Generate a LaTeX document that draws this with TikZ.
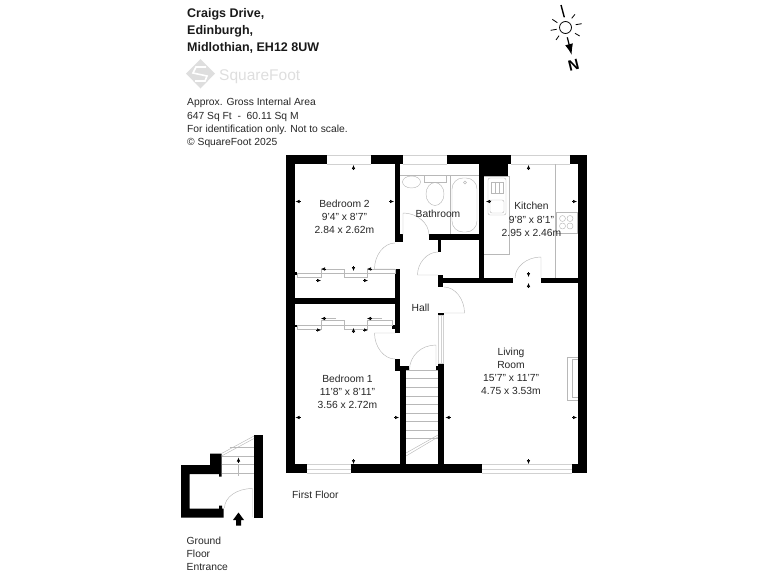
\documentclass[tikz,border=0pt]{standalone}
\usepackage{fontspec}
\setmainfont{Liberation Sans}
\usetikzlibrary{arrows.meta}
\definecolor{fixline}{gray}{0.72}
\definecolor{glazing}{gray}{0.82}
\definecolor{logogrey}{gray}{0.87}

\tikzset{
  wall/.style={fill=black},
  fix/.style={draw=fixline,line width=.45pt},
  pane/.style={draw=glazing,line width=.45pt},
  room/.style={align=center,inner sep=0pt,text=black!85,font=\fontsize{10.3}{13.2}\selectfont},
  note/.style={align=left,anchor=west,inner sep=0pt,text=black!85,font=\fontsize{10.3}{13.3}\selectfont},
  head/.style={anchor=base west,inner sep=0pt,text=black!90,font=\fontsize{12.5}{17}\selectfont\bfseries},
  dimtip/.style={black,line width=.6pt,-{Latex[length=4pt,width=3.6pt]}}
}

\begin{document}
\begin{tikzpicture}[x=1pt,y=-1pt]
  \useasboundingbox (0,0) rectangle (768,576);
  % walls
  \foreach \xa/\ya/\xb/\yb in {286/155/327/164, 371/155/403/164, 447/155/511/164, 570/155/587/164,
      484/164/508/176, 286/155/295/473, 578/155/587/473, 286/464/307/473, 351/464/482/473, 572/464/587/473,
      395/164/400/242, 400/234/403/242, 395/269/400/333, 392/325/395/329, 295/298/395/304,
      429/234/484/240, 438/240/441/252, 479/164/484/283, 438/278/513/283, 438/275/443/287, 541/278/578/283,
      438/313/444/315, 438/363/444/473, 400/366/406/473, 395/359/400/371, 400/366/409/371, 436/366/438/371,
      295/272/297/275, 295/325/297/327}
    \fill[wall] (\xa,\ya) rectangle (\xb,\yb);
  % windows
  \foreach \xa/\xb in {327/371, 403/447, 511/570} {
    \draw[pane] (\xa,155) -- (\xb,155);
    \draw[pane] (\xa,164) -- (\xb,164);
  }
  \foreach \xa/\xb in {307/351, 482/572} {
    \draw[pane] (\xa,464) -- (\xb,464);
    \draw[pane] (\xa,469) -- (\xb,469);
    \draw[pane] (\xa,473) -- (\xb,473);
  }
  \draw[pane] (438.5,315) rectangle (443.5,363);
  \draw[pane] (441,315) -- (441,363);
  % doors
  \draw[fix] (403,235) -- (403,213) .. controls (417,213) and (429,223) .. (429,235);
  \draw[fix] (395,243) .. controls (384,243) and (374.5,255) .. (374.5,269) -- (395,269);
  \draw[fix] (438,252) .. controls (427,252) and (417.5,263) .. (417.5,275) -- (438,275);
  \draw[fix] (515,278) .. controls (515,267) and (526.5,257) .. (541,257) -- (541,278);
  \draw[fix] (444,287) .. controls (455,287) and (464.5,299) .. (464.5,313) -- (444,313);
  \draw[fix] (395,333) -- (374.5,333) .. controls (374.5,347) and (384,359) .. (395,359);
  \draw[fix] (409.5,370) .. controls (409.5,356) and (421,345) .. (436,345) -- (436,366);
  % wardrobes
  \foreach \ya/\yb/\yc/\xe in {269/273.5/277.5/395, 320.5/325/329/392} {
    \draw[fix] (321.5,\ya) rectangle (344,\yb);
    \draw[fix] (367.5,\ya) rectangle (\xe,\yb);
    \draw[fix] (297,\yb) rectangle (321.5,\yc);
    \draw[fix] (344,\yb) rectangle (367.5,\yc);
  }
  \foreach \y in {269,318.5} {
    \draw[fix] (336,\y) -- (324,\y);
    \draw[fix] (382,\y) -- (370,\y);
  }
  % stairs
  \foreach \y in {370,378,387,396,404,413,421,430,438} \draw[fix] (406,\y) -- (438,\y);
  \draw[fix] (406,456) -- (438,437);
  \draw[fix] (406,453) -- (438,435);
  % bathroom
  \draw[fix] (400,175.5) -- (479,175.5);
  \draw[fix] (450,175.5) -- (450,234);
  \draw[fix] (411.5,182) ellipse (9 and 6);
  \draw[fix] (424,175.5) rectangle (446,182);
  \draw[fix] (435,194) ellipse (9 and 11.5);
  \draw[fix,rounded corners=11pt] (452,178) rectangle (477,232);
  \draw[fix] (465,182.5) circle (1.5);
  % kitchen
  \draw[fix] (484,176) -- (509,176) -- (509,254) -- (484,254);
  \draw[fix] (555,164) -- (555,278);
  \draw[fix,rounded corners=2pt] (488,178) rectangle (506,215);
  \draw[fix] (491,182) rectangle (503,193);
  \foreach \x in {495,499} \draw[fix] (\x,182) -- (\x,193);
  \draw[fix,rounded corners=2pt] (490,200) rectangle (504,213);
  \draw[fix] (556,212) rectangle (577,233);
  \foreach \x/\y in {562.5/218.5, 570/218.5, 562.5/226, 570/226} \draw[fix] (\x,\y) circle (3);
  % fireplace
  \draw[fix] (578,357) -- (567,357) -- (567,400.5) -- (578,400.5);
  \draw[fix] (578,359.5) -- (572.5,359.5) -- (572.5,397) -- (578,397);
  % entrance
  \fill[wall] (181,465) -- (210,465) -- (210,453.5) -- (221.5,453.5) -- (221.5,476.5) -- (219,476.5) -- (219,474)
    -- (189.5,474) -- (189.5,508.5) -- (219,508.5) -- (219,505.5) -- (222,505.5) -- (222,508.5) -- (223.5,508.5)
    -- (223.5,517.5) -- (181,517.5) -- cycle;
  \fill[wall] (254,435) rectangle (262.5,517.5);
  \draw[fix] (221.5,453.5) -- (254,436);
  \draw[fix] (221.5,456) -- (254,438.5);
  \draw[fix] (229.5,447.5) -- (254,447.5);
  \foreach \y in {456,464.5,473.5} \draw[fix] (221.5,\y) -- (254,\y);
  \draw[fix] (238.5,464) -- (238.5,476);
  \draw[fix] (252.5,517) -- (252.5,488.5) .. controls (237,488.5) and (224.5,497) .. (224.5,508);
  \fill[wall] (238.5,512.5) -- (244,520) -- (241,520) -- (241,525.5) -- (236,525.5) -- (236,520) -- (233,520) -- cycle;
  \draw[dimtip] (238.5,463) -- (238.5,457.5);
  % dimension tips
  \foreach \x/\y/\dx/\dy in {353.5/170/0/-5, 300.5/201.5/-5/0, 389/201.5/5/0, 353.5/266/0/5,
      528.5/170/0/-5, 491/201.5/-5/0, 572/201.5/5/0, 528.5/272/0/5, 528.5/288/0/-5,
      353.5/333/0/-5, 300.5/417.5/-5/0, 394/417.5/5/0, 353.5/459/0/5,
      450.5/417.5/-5/0, 572/417.5/5/0, 528.5/459/0/5,
      326/269/-5/0, 372/269/-5/0, 316/280.5/5/0, 363/280.5/5/0,
      326/318.5/-5/0, 372/318.5/-5/0, 316/330/5/0, 363/330/5/0}
    \draw[dimtip] (\x,\y) -- ++(\dx,\dy);
  % compass
  \draw[line width=.8pt] (565.5,27.5) circle (6);
  \draw[line width=1.4pt] (561,5) -- (564.3,17.3);
  \foreach \xa/\ya/\xb/\yb in {571.7/18.3/575/14.3, 575.7/24.7/581.7/23.7, 575/33.3/579.7/36,
      559/35.7/556/40, 556.7/29.3/550.7/30.3, 557.3/22.7/552.3/19.3}
    \draw[line width=.8pt] (\xa,\ya) -- (\xb,\yb);
  \draw[line width=1.2pt,-{Latex[length=11pt,width=8pt]}] (567.3,37.3) -- (571.7,55);
  \node[rotate=14,inner sep=0pt,font=\fontsize{15}{15}\selectfont\bfseries] (north) at (573.5,65.5) {N};
  % logo
  \fill[logogrey] (200.5,59) -- (215,73.5) -- (200.5,88.5) -- (186,73.5) -- cycle;
  \draw[white,line width=1.6pt] (206,67) -- (196,67) -- (193,73) -- (207,76) -- (205,81) -- (195,81);
  \node[anchor=base west,inner sep=0pt,text=logogrey,font=\fontsize{15.5}{15.5}\selectfont] (logo) at (219,80) {SquareFoot};
  % titles
  \node[head] (title) at (187,17.5) {Craigs Drive,};
  \node[head] (town) at (187,34.5) {Edinburgh,};
  \node[head] (county) at (187,51.5) {Midlothian, EH12 8UW};
  \node[note,anchor=base west] (area) at (187,105.5) {Approx. Gross Internal Area};
  \node[note,anchor=base west] (sqft) at (187,119) {647 Sq Ft \ -\ \ 60.11 Sq M};
  \node[note,anchor=base west] (scale) at (187,132.5) {For identification only. Not to scale.};
  \node[note,anchor=base west] (copy) at (187,145.5) {© SquareFoot 2025};
  % rooms
  \node[room] (bedtwo) at (344.5,217) {Bedroom 2\\9'4" x 8'7"\\2.84 x 2.62m};
  \node[room] (kitchen) at (531.5,219.5) {Kitchen\\9'8" x 8'1"\\2.95 x 2.46m};
  \node[room] (bath) at (438,214) {Bathroom};
  \node[room] (hall) at (420.5,307.5) {Hall};
  \node[room] (living) at (511,371.5) {Living\\Room\\15'7" x 11'7"\\4.75 x 3.53m};
  \node[room] (bedone) at (347.5,392) {Bedroom 1\\11'8" x 8'11"\\3.56 x 2.72m};
  \node[note] (floor) at (292,494.5) {First Floor};
  \node[note] (ground) at (186.5,554) {Ground\\Floor\\Entrance};
\end{tikzpicture}
\end{document}
